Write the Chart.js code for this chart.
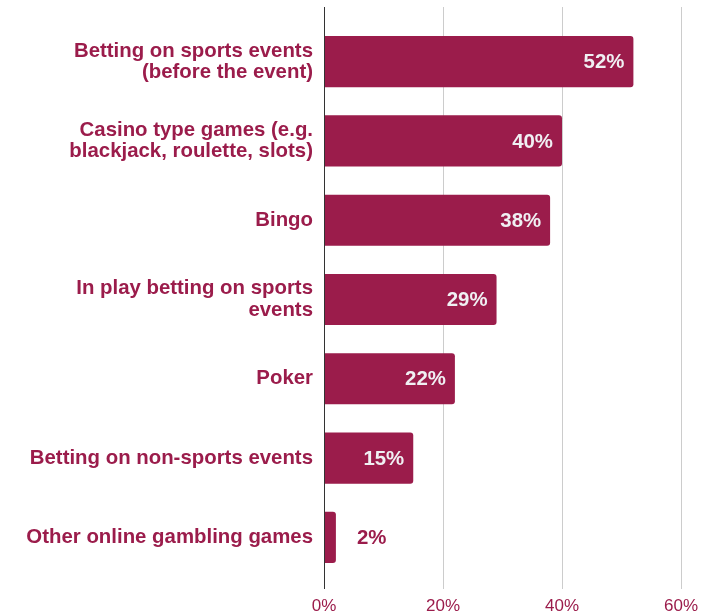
<!DOCTYPE html>
<html>
<head>
<meta charset="utf-8">
<script src="https://cdn.jsdelivr.net/npm/chart.js@4/dist/chart.umd.min.js"></script>
<style>
    html, body { margin: 0; padding: 0; background: #fff; }
    #wrap { width: 710px; height: 613px; position: relative; }
</style>
</head>
<body>
<div id="wrap"><canvas id="gamblingChart"></canvas></div>
<script>
const categories = [
    ["Betting on sports events", "(before the event)"],
    ["Casino type games (e.g.", "blackjack, roulette, slots)"],
    "Bingo",
    ["In play betting on sports", "events"],
    "Poker",
    "Betting on non-sports events",
    "Other online gambling games"
];
const shares = [52, 40, 38, 29, 22, 15, 2];
const xTicks = [0, 20, 40, 60];

const MAROON = "#9b1c4b";
const FONT = "'Liberation Sans', Arial, Helvetica, sans-serif";

// vertical grid lines, taller than the plot area
const gridPlugin = {
    id: "gridLines",
    beforeDatasetsDraw(chart) {
        const ctx = chart.ctx;
        const x = chart.scales.x;
        ctx.save();
        ctx.strokeStyle = "#cccccc";
        ctx.lineWidth = 1;
        xTicks.forEach(v => {
            if (v === 0) return;
            const px = Math.round(x.getPixelForValue(v)) + 0.5;
            ctx.beginPath();
            ctx.moveTo(px, 7);
            ctx.lineTo(px, 589);
            ctx.stroke();
        });
        ctx.restore();
    },
    afterDatasetsDraw(chart) {
        const ctx = chart.ctx;
        const x = chart.scales.x;
        const px = Math.round(x.getPixelForValue(0)) + 0.5;
        ctx.save();
        ctx.strokeStyle = "#333333";
        ctx.lineWidth = 1;
        ctx.beginPath();
        ctx.moveTo(px, 7);
        ctx.lineTo(px, 589);
        ctx.stroke();
        ctx.restore();
    }
};

// percentage at the end of each bar
const valueLabels = {
    id: "valueLabels",
    afterDatasetsDraw(chart) {
        const ctx = chart.ctx;
        const meta = chart.getDatasetMeta(0);
        ctx.save();
        ctx.font = "bold 20.4px " + FONT;
        ctx.textBaseline = "middle";
        meta.data.forEach((bar, i) => {
            const text = shares[i] + "%";
            const w = ctx.measureText(text).width;
            const barLen = bar.x - bar.base;
            if (barLen > w + 16) {
                ctx.fillStyle = "#f0f0f3";
                ctx.textAlign = "right";
                ctx.fillText(text, bar.x - 9, bar.y + 1);
            } else {
                ctx.fillStyle = MAROON;
                ctx.textAlign = "left";
                ctx.fillText(text, bar.x + 21, bar.y + 1);
            }
        });
        ctx.restore();
    }
};

new Chart(document.getElementById("gamblingChart"), {
    type: "bar",
    data: {
        labels: categories,
        datasets: [{
            data: shares,
            backgroundColor: MAROON,
            borderRadius: 3,
            borderSkipped: "start",
            barPercentage: 0.645,
            categoryPercentage: 1
        }]
    },
    options: {
        indexAxis: "y",
        responsive: true,
        maintainAspectRatio: false,
        animation: false,
        layout: { padding: { top: 22, right: 29, left: 0, bottom: 0 } },
        plugins: {
            legend: { display: false },
            tooltip: { enabled: false }
        },
        scales: {
            x: {
                min: 0,
                max: 60,
                afterBuildTicks: scale => {
                    scale.ticks = xTicks.map(v => ({ value: v }));
                },
                afterFit: scale => { scale.height = 36; },
                grid: { display: false, drawTicks: true, tickLength: 17 },
                border: { display: false },
                ticks: {
                    padding: 2,
                    color: MAROON,
                    font: { family: FONT, size: 17 },
                    callback: v => v + "%"
                }
            },
            y: {
                afterFit: scale => { scale.width = 324; },
                grid: { display: false, drawTicks: false },
                border: { display: false },
                ticks: {
                    padding: 11,
                    color: MAROON,
                    font: { family: FONT, size: 20.4, weight: "bold", lineHeight: 1.05 }
                }
            }
        }
    },
    plugins: [gridPlugin, valueLabels]
});
</script>
</body>
</html>
